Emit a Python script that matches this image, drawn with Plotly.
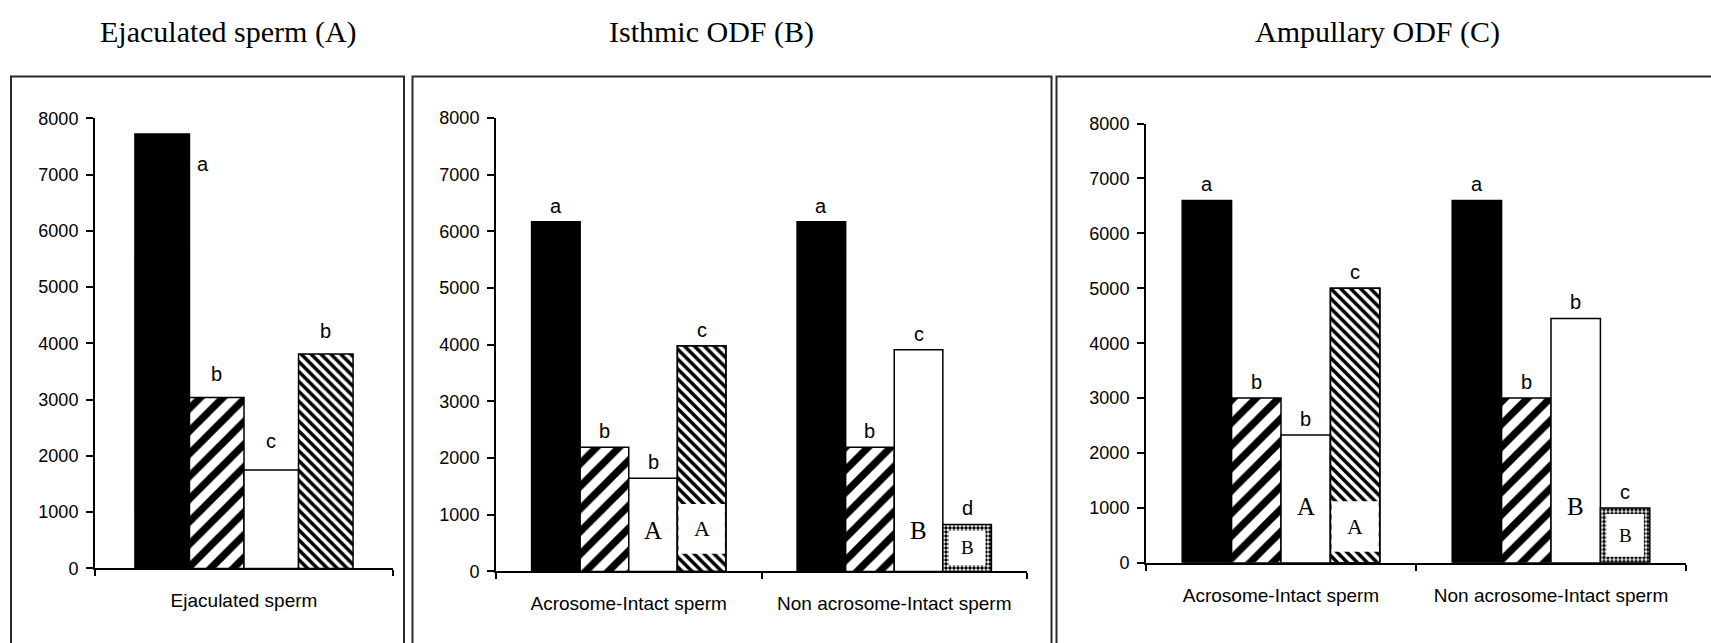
import plotly.graph_objects as go

W_PX, H_PX = 1711, 643

# ---------------- data ----------------
titles = ["Ejaculated sperm (A)", "Isthmic ODF (B)", "Ampullary ODF (C)"]
y_ticks = [0, 1000, 2000, 3000, 4000, 5000, 6000, 7000, 8000]

cats_a = ["Ejaculated sperm"]
a_black = [7720]
a_hatch = [3040]
a_white = [1750]
a_dense = [3810]
a_letters = [["a", "b", "c", "b"]]

cats_b = ["Acrosome-Intact sperm", "Non acrosome-Intact sperm"]
b_black = [6170, 6170]
b_hatch = [2190, 2190]
b_white = [1645, 3910]
b_dense = [3980]              # 4th bar, acrosome-intact group
b_dense_window = [310, 1190]  # white window inside dense bar
b_dotted = [830]              # 4th bar, non acrosome-intact group
b_letters = [["a", "b", "b", "c"], ["a", "b", "c", "d"]]
b_inner = ["A", "A", "B", "B"]

cats_c = ["Acrosome-Intact sperm", "Non acrosome-Intact sperm"]
c_black = [6600, 6600]
c_hatch = [3000, 3000]
c_white = [2330, 4450]
c_dense = [5000]
c_dense_window = [200, 1120]
c_dotted = [1000]
c_letters = [["a", "b", "b", "c"], ["a", "b", "b", "c"]]
c_inner = ["A", "A", "B", "B"]

# ---------------- style / layout ----------------
SANS = "Liberation Sans, Arial, sans-serif"
SERIF = "Liberation Serif, Times New Roman, serif"
OFF0, BW = -0.366, 0.183
LINE = dict(color="black", width=1.5)
HATCH = dict(shape="/", size=16, solidity=0.45, fgcolor="black", bgcolor="white", fgopacity=1)
DENSE = dict(shape="\\", size=7, solidity=0.5, fgcolor="black", bgcolor="white", fgopacity=1)
DOTS = dict(shape=".", size=4, solidity=0.6, fgcolor="black", bgcolor="white", fgopacity=1)

VC, VS = 344.0, 0.97   # vertical calibration of the rendered page


def Y(py):
    return VC + (py - VC) / VS


def px_x(a, b):
    return [a / W_PX, b / W_PX]


def px_y(top, bottom):
    return [1 - Y(bottom) / H_PX, 1 - Y(top) / H_PX]


domains = [
    (px_x(95, 393), px_y(118.7, 569.4)),
    (px_x(496, 1027), px_y(118.4, 572.4)),
    (px_x(1146, 1686), px_y(124, 563.8)),
]
inner_y = [None, 720, 1030]   # vertical placement of inner serif letters in white bars
dot_inset_x, dot_inset_y = 0.022, 110

fig = go.Figure()
annotations = []


def off(i):
    return OFF0 + i * BW


def bar(xa, ya, x, y, i, base=None, color="white", pattern=None, line=LINE, offset=None, width=None):
    fig.add_trace(go.Bar(
        x=x, y=y, base=base, xaxis=xa, yaxis=ya,
        offset=off(i) if offset is None else offset,
        width=BW if width is None else width,
        marker=dict(color=color, line=line, pattern=pattern or {}),
        showlegend=False, hoverinfo="skip"))


def letter(xr, yr, x, y, text, **kw):
    d = dict(x=x, y=y, xref=xr, yref=yr, text=text, showarrow=False,
             font=dict(family=SANS, size=20, color="black"),
             xanchor="center", yanchor="bottom")
    d.update(kw)
    annotations.append(d)


# ---- panel A ----
xa, ya = "x", "y"
bar(xa, ya, cats_a, a_black, 0, color="black")
bar(xa, ya, cats_a, a_hatch, 1, pattern=HATCH)
bar(xa, ya, cats_a, a_white, 2)
bar(xa, ya, cats_a, a_dense, 3, pattern=DENSE)
vals_a = [a_black, a_hatch, a_white, a_dense]
for g in range(len(cats_a)):
    for i, lt in enumerate(a_letters[g]):
        if i == 0:
            letter("x", "y", g + off(1) + 0.02, vals_a[i][g], lt,
                   xanchor="left", yanchor="middle", yshift=-30)
        else:
            letter("x", "y", g + off(i) + BW / 2, vals_a[i][g], lt,
                   yshift=16 if lt == "c" else 10)


# ---- panels B and C ----
def panel(k, cats, black, hatch, white, dense, window, dotted, letters, inner):
    xa = "x%d" % (k + 1)
    ya = "y%d" % (k + 1)
    bar(xa, ya, cats, black, 0, color="black")
    bar(xa, ya, cats, hatch, 1, pattern=HATCH)
    bar(xa, ya, cats, white, 2)
    # dense bar with white window (first group)
    bar(xa, ya, cats[:1], dense, 3, pattern=DENSE)
    bar(xa, ya, cats[:1], [window[1] - window[0]], 3, base=[window[0]],
        line=dict(width=0), offset=off(3) + 0.004, width=BW - 0.008)
    bar(xa, ya, cats[:1], dense, 3, color="rgba(0,0,0,0)")
    # dotted bar (second group)
    bar(xa, ya, cats[1:], dotted, 3, pattern=DOTS)
    bar(xa, ya, cats[1:], [dotted[0] - 2 * dot_inset_y], 3, base=[dot_inset_y],
        line=dict(width=0), offset=off(3) + dot_inset_x, width=BW - 2 * dot_inset_x)
    fourth = [dense[0], dotted[0]]
    vals = [black, hatch, white, fourth]
    for g in range(len(cats)):
        for i, lt in enumerate(letters[g]):
            letter(xa, ya, g + off(i) + BW / 2, vals[i][g], lt, yshift=3)
    # inner serif letters
    letter(xa, ya, 0 + off(2) + BW / 2, inner_y[k], inner[0],
           yanchor="middle", font=dict(family=SERIF, size=25, color="black"))
    letter(xa, ya, 0 + off(3) + BW / 2, (window[0] + window[1]) / 2, inner[1],
           yanchor="middle", font=dict(family=SERIF, size=22, color="black"))
    letter(xa, ya, 1 + off(2) + BW / 2, inner_y[k], inner[2],
           yanchor="middle", font=dict(family=SERIF, size=25, color="black"))
    letter(xa, ya, 1 + off(3) + BW / 2, dotted[0] / 2, inner[3],
           yanchor="middle", font=dict(family=SERIF, size=19, color="black"))


panel(1, cats_b, b_black, b_hatch, b_white, b_dense, b_dense_window, b_dotted, b_letters, b_inner)
panel(2, cats_c, c_black, c_hatch, c_white, c_dense, c_dense_window, c_dotted, c_letters, c_inner)

# ---- titles ----
for t, cx in zip(titles, [228, 711, 1377.5]):
    annotations.append(dict(x=cx / W_PX, y=1 - Y(32) / H_PX, xref="paper", yref="paper",
                            text=t, showarrow=False, xanchor="center", yanchor="middle",
                            font=dict(family=SERIF, size=30, color="black")))

# ---- panel frames ----
shapes = []
for x0, x1 in [(11, 404), (412.5, 1051.5), (1056.5, 1725)]:
    shapes.append(dict(type="rect", xref="paper", yref="paper",
                       x0=x0 / W_PX, x1=x1 / W_PX, y0=-0.05, y1=1 - Y(77) / H_PX,
                       line=dict(color="#2a2a2a", width=2), fillcolor="rgba(0,0,0,0)"))

layout = dict(
    width=W_PX, height=H_PX, margin=dict(l=0, r=0, t=0, b=0),
    paper_bgcolor="white", plot_bgcolor="white", barmode="overlay",
    annotations=annotations, shapes=shapes,
)
for k, (dx, dy) in enumerate(domains):
    sfx = "" if k == 0 else str(k + 1)
    layout["xaxis" + sfx] = dict(
        domain=dx, anchor="y" + sfx, type="category", showline=True, linecolor="black",
        linewidth=2, ticks="outside", tickson="boundaries", ticklen=6, tickwidth=2,
        tickcolor="black", showgrid=False, zeroline=False, ticklabelstandoff=14,
        tickfont=dict(family=SANS, size=19, color="black"), fixedrange=True)
    layout["yaxis" + sfx] = dict(
        domain=dy, anchor="x" + sfx, range=[0, 8000], tickvals=y_ticks,
        showline=True, linecolor="black", linewidth=2, ticks="outside", ticklen=7,
        tickwidth=2, tickcolor="black", showgrid=False, zeroline=False,
        ticklabelstandoff=4,
        tickfont=dict(family=SANS, size=18, color="black"), fixedrange=True)

fig.update_layout(**layout)
fig.write_html("out.html", config={"displayModeBar": False},
               post_script="document.body.style.margin='0';document.body.style.overflow='hidden';")
